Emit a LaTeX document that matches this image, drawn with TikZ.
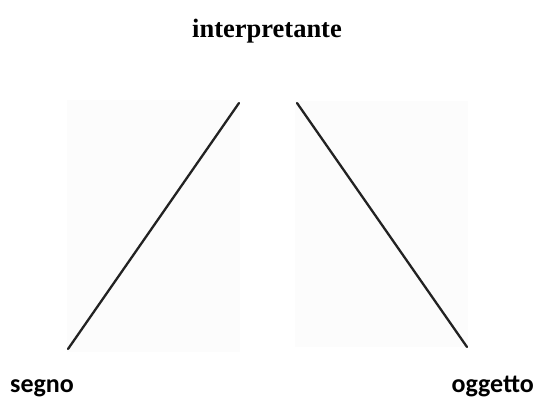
\documentclass[tikz,border=0pt]{standalone}
\usepackage{fontspec}
\setmainfont{Liberation Serif}
\newfontfamily\calib{Carlito}
\definecolor{linecol}{HTML}{222222}
\definecolor{scanbg}{HTML}{FCFCFC}
\begin{document}
\begin{tikzpicture}[x=1pt,y=-1pt,
  lbl/.style={inner sep=0pt,anchor=base},
  edge/.style={draw=linecol,line width=2.3pt,line cap=round},
  scan/.style={fill=scanbg,draw=none}]
\useasboundingbox (0,0) rectangle (534,408);
\fill[white] (0,0) rectangle (534,408);
\fill[scan] (67,100) rectangle (240,352);
\fill[scan] (295,101) rectangle (468,347);
\node[lbl,font=\fontsize{26.5}{30}\selectfont\bfseries] (interp) at (267,37) {interpretante};
\node[lbl,anchor=base west,font=\calib\fontsize{26}{30}\selectfont\bfseries] (segno) at (10,392) {segno};
\node[lbl,anchor=base east,font=\calib\fontsize{26}{30}\selectfont\bfseries] (oggetto) at (534,392) {oggetto};
\coordinate (l1) at (68,349);
\coordinate (l2) at (239,103);
\coordinate (r1) at (297,103);
\coordinate (r2) at (467,347);
\draw[edge] (l1) -- (l2);
\draw[edge] (r1) -- (r2);
\end{tikzpicture}
\end{document}
